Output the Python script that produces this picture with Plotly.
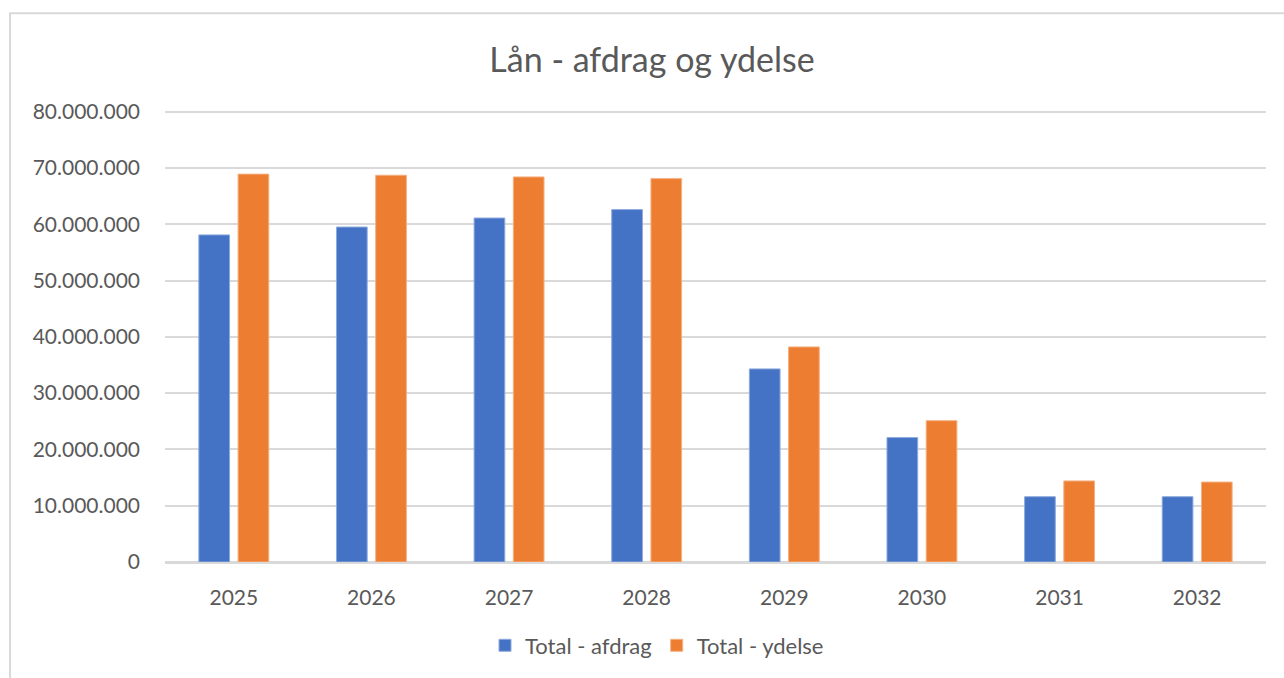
import plotly.graph_objects as go

years = ["2025", "2026", "2027", "2028", "2029", "2030", "2031", "2032"]
afdrag = [58100000, 59500000, 61100000, 62600000, 34300000, 22100000, 11600000, 11600000]
ydelse = [68900000, 68700000, 68400000, 68100000, 38200000, 25100000, 14400000, 14200000]

W, H = 1284, 678
ymax = 80000000
ytop = 81000000
L, R, B = 165, 1266, 565
T80 = 112
ph = (B - T80) * ytop / ymax
T = B - ph
pw = R - L

def px(x):
    return (x - L) / pw

def py(y):
    return (B - y) / ph

font_family = "Lato, 'Open Sans', sans-serif"
txt = "#595959"

fig = go.Figure()
fig.add_trace(go.Bar(x=years, y=afdrag, name="Total - afdrag",
                     marker=dict(color="#4472C4", line=dict(color="#8faadc", width=1))))
fig.add_trace(go.Bar(x=years, y=ydelse, name="Total - ydelse",
                     marker=dict(color="#ED7D31", line=dict(color="#f4b183", width=1))))

fig.update_layout(
    width=W, height=H,
    margin=dict(l=L, r=W - R, t=T, b=H - B, pad=0),
    paper_bgcolor="white", plot_bgcolor="white",
    separators=",.",
    barmode="group", bargap=0.43, bargroupgap=0.217,
    font=dict(family=font_family, color=txt, size=21),
    title=dict(text="Lån - afdrag og ydelse", x=652 / W, xref="container", xanchor="center",
               y=1 - 60 / H, yref="container", yanchor="middle",
               font=dict(size=34, color=txt, family=font_family)),
    legend=dict(orientation="h", x=px(657), xanchor="center", y=py(649), yanchor="middle",
                font=dict(size=22, color=txt), itemwidth=30, traceorder="normal"),
    showlegend=True,
)
fig.update_yaxes(range=[0, ytop], tickvals=list(range(0, ymax + 1, 10000000)), tickformat=",d",
                 showgrid=True, gridcolor="#d9d9d9", gridwidth=1.5,
                 zeroline=True, zerolinecolor="#d9d9d9", zerolinewidth=1.5,
                 showline=False, ticks="", ticklabelstandoff=24,
                 tickfont=dict(size=21, color=txt))
fig.update_xaxes(showline=True, linecolor="#d9d9d9", linewidth=1.5, ticks="",
                 ticklabelstandoff=16, tickfont=dict(size=21, color=txt))

fig.add_shape(type="rect", xref="paper", yref="paper",
              x0=px(10), x1=px(1300), y0=py(700), y1=py(13),
              line=dict(color="#d9d9d9", width=2), fillcolor="rgba(0,0,0,0)", layer="below")

fig.write_html("out.html", config={"displayModeBar": False},
               post_script="document.body.style.margin='0';document.body.style.overflow='hidden';")
